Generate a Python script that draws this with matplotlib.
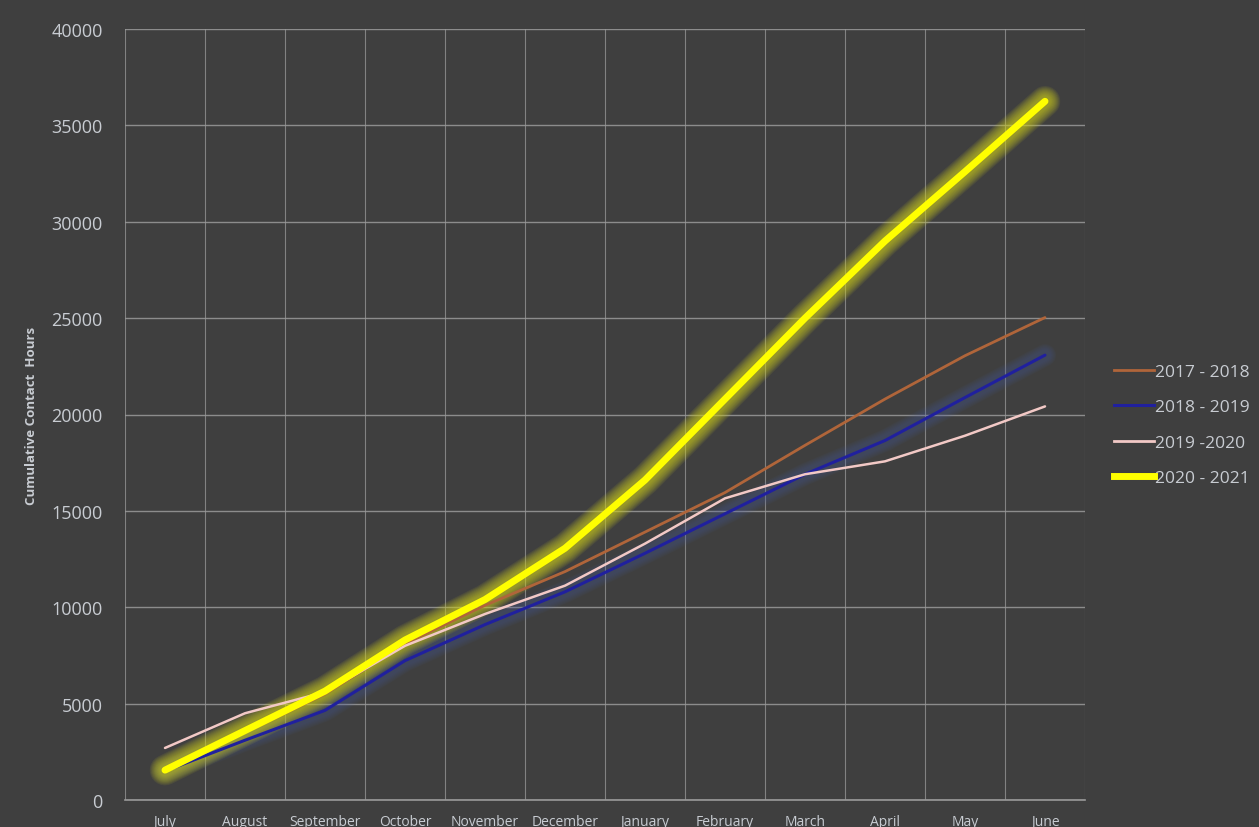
import matplotlib
matplotlib.use("Agg")
import matplotlib.pyplot as plt
from matplotlib.lines import Line2D

months = ["July", "August", "September", "October", "November", "December",
          "January", "February", "March", "April", "May", "June"]
s2017 = [1500, 3500, 5500, 8100, 10100, 11850, 13900, 15950, 18400, 20800, 23050, 25030]
s2018 = [1500, 3100, 4650, 7230, 9100, 10800, 12800, 14850, 16900, 18650, 20880, 23080]
s2019 = [2700, 4500, 5600, 8000, 9650, 11120, 13300, 15650, 16900, 17570, 18900, 20420]
s2020 = [1550, 3600, 5650, 8300, 10400, 13060, 16600, 20800, 25000, 29000, 32600, 36250]
labels = ["2017 - 2018", "2018 - 2019", "2019 -2020", "2020 - 2021"]
yticks = [0, 5000, 10000, 15000, 20000, 25000, 30000, 35000, 40000]

bg = "#3f3f3f"
txt = "#c8ccd2"
grid = "#9a9a9a"
c_brown = "#b0653a"
c_blue = "#20209e"
c_pink = "#f2c9c6"
c_yel = "#ffff00"

plt.rcParams['font.family'] = ['Open Sans', 'DejaVu Sans']
fig = plt.figure(figsize=(12.59, 8.28), dpi=100, facecolor=bg)
ax = fig.add_axes([125/1259, 27/828, 960/1259, 771/828], facecolor=bg)

x = list(range(len(months)))

# soft glows
for i in range(10):
    w = 22 - i * 1.5
    ax.plot(x, s2020, color="#d0d020", lw=w, alpha=0.095, solid_capstyle="round",
            solid_joinstyle="round", zorder=2)
for i in range(6):
    w = 16 - i * 1.6
    ax.plot(x, s2018, color="#4d62a8", lw=w, alpha=0.06, solid_capstyle="round",
            solid_joinstyle="round", zorder=1.5)

ax.plot(x, s2017, color=c_brown, lw=2.0, zorder=3, solid_capstyle="round")
ax.plot(x, s2018, color=c_blue, lw=2.2, zorder=3, solid_capstyle="round")
ax.plot(x, s2019, color=c_pink, lw=1.8, zorder=3.2, solid_capstyle="round")
ax.plot(x, s2020, color=c_yel, lw=5, zorder=4, solid_capstyle="round",
        solid_joinstyle="round")

ax.set_xlim(-0.5, len(months) - 0.5)
ax.set_ylim(0, 40000)
ax.set_yticks(yticks)
ax.set_yticklabels([str(v) for v in yticks])
ax.set_xticks(x)
ax.set_xticklabels(months)
ax.set_xticks([i - 0.5 for i in range(len(months) + 1)], minor=True)
ax.grid(False)
ax.grid(True, which="minor", axis="x", color=grid, lw=0.8, alpha=0.75)
ax.grid(True, which="major", axis="y", color=grid, lw=1.0, alpha=0.85)
ax.set_axisbelow(True)
ax.tick_params(axis="both", which="both", length=0)
ax.tick_params(axis="y", labelsize=13, colors=txt, pad=16)
ax.tick_params(axis="x", labelsize=10, colors=txt, pad=10)
for s in ["top", "right", "left"]:
    ax.spines[s].set_visible(False)
ax.spines["bottom"].set_color(grid)
ax.spines["bottom"].set_linewidth(1.2)

fig.text(32/1259, 1 - 416/828, "Cumulative Contact  Hours", rotation=90,
         ha="center", va="center", color=txt, fontsize=9.5, fontweight="bold")

handles = [Line2D([], [], color=c_brown, lw=2),
           Line2D([], [], color=c_blue, lw=2.2),
           Line2D([], [], color=c_pink, lw=2),
           Line2D([], [], color=c_yel, lw=5)]
leg = fig.legend(handles, labels, loc="center left",
                 bbox_to_anchor=(1098/1259, 1 - 426/828), frameon=False,
                 fontsize=12.5, labelcolor=txt, handlelength=2.3,
                 handletextpad=0.1, labelspacing=1.1)

fig.savefig("out.png", dpi=100, facecolor=bg)
